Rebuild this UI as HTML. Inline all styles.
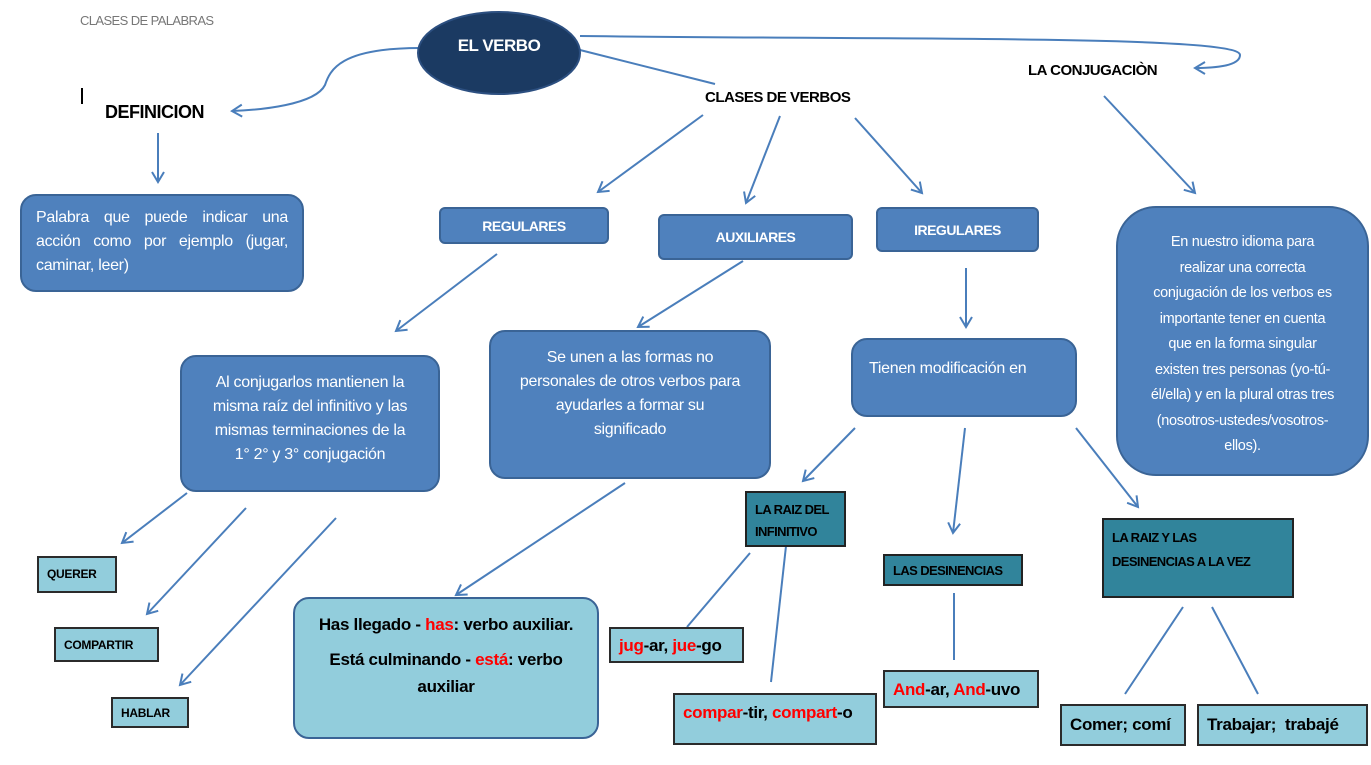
<!DOCTYPE html>
<html><head><meta charset="utf-8"><style>
body{margin:0;width:1371px;height:765px;background:#fff;position:relative;overflow:hidden;font-family:"Liberation Sans",sans-serif;}
.a{position:absolute;box-sizing:border-box;}
.mb{background:#4f81bd;border:2px solid #3a6496;color:#fff;border-radius:6px;font-weight:bold;font-size:14px;display:flex;align-items:center;justify-content:center;letter-spacing:-0.5px;}
.big{background:#4f81bd;border:2px solid #3a6496;color:#fff;border-radius:16px;font-size:15px;text-align:center;letter-spacing:-0.3px;}
.lb{background:#92cddc;border:2px solid #2b2b2b;color:#000;font-size:15px;letter-spacing:-0.3px;}
.tl{background:#31849b;border:2px solid #222;color:#000;font-weight:bold;font-size:13px;letter-spacing:-0.6px;}
.r{color:#f00;}
.t{position:absolute;font-weight:bold;color:#000;letter-spacing:-0.5px;}
.j{text-align:justify;text-align-last:justify;}
</style></head><body>
<svg class="a" style="left:0;top:0" width="1371" height="765">
<defs><marker id="m" markerWidth="14" markerHeight="14" refX="11" refY="7" orient="auto" markerUnits="userSpaceOnUse"><polyline points="1,1 11,7 1,13" fill="none" stroke="#4a7ebb" stroke-width="2"/></marker></defs>
<g stroke="#4a7ebb" stroke-width="2" fill="none">
<path d="M420,48 C340,48 330,70 325,85 C315,105 260,110 232,111" marker-end="url(#m)"/>
<path d="M580,36 C900,40 1240,35 1240,55 C1240,66 1215,68 1195,68" marker-end="url(#m)"/>
<line x1="580" y1="50" x2="715" y2="84"/>
<line x1="158" y1="133" x2="158" y2="182" marker-end="url(#m)"/>
<line x1="703" y1="115" x2="598" y2="192" marker-end="url(#m)"/>
<line x1="780" y1="116" x2="746" y2="203" marker-end="url(#m)"/>
<line x1="855" y1="118" x2="922" y2="193" marker-end="url(#m)"/>
<line x1="1104" y1="96" x2="1195" y2="193" marker-end="url(#m)"/>
<line x1="497" y1="254" x2="396" y2="331" marker-end="url(#m)"/>
<line x1="743" y1="261" x2="638" y2="327" marker-end="url(#m)"/>
<line x1="966" y1="268" x2="966" y2="327" marker-end="url(#m)"/>
<line x1="187" y1="493" x2="122" y2="543" marker-end="url(#m)"/>
<line x1="246" y1="508" x2="147" y2="614" marker-end="url(#m)"/>
<line x1="336" y1="518" x2="180" y2="685" marker-end="url(#m)"/>
<line x1="625" y1="483" x2="456" y2="595" marker-end="url(#m)"/>
<line x1="855" y1="428" x2="803" y2="481" marker-end="url(#m)"/>
<line x1="965" y1="428" x2="953" y2="533" marker-end="url(#m)"/>
<line x1="1076" y1="428" x2="1138" y2="507" marker-end="url(#m)"/>
<line x1="750" y1="553" x2="687" y2="627"/>
<line x1="786" y1="546" x2="771" y2="682"/>
<line x1="954" y1="593" x2="954" y2="660"/>
<line x1="1183" y1="607" x2="1125" y2="694"/>
<line x1="1212" y1="607" x2="1258" y2="694"/>
</g>
<ellipse cx="499" cy="53" rx="81" ry="41" fill="#1b3a62" stroke="#2c4f80" stroke-width="2"/>
<line x1="82" y1="88" x2="82" y2="104" stroke="#000" stroke-width="2"/>
</svg>
<div class="a" style="left:80px;top:13px;font-size:13px;color:#777;letter-spacing:-0.6px">CLASES DE PALABRAS</div>
<div class="a" style="left:418px;top:36px;width:162px;text-align:center;color:#fff;font-weight:bold;font-size:17px;letter-spacing:-0.5px">EL VERBO</div>
<div class="t" style="left:105px;top:102px;font-size:18px">DEFINICION</div>
<div class="t" style="left:705px;top:89px;font-size:15px">CLASES DE VERBOS</div>
<div class="t" style="left:1028px;top:62px;font-size:15px">LA CONJUGACIÒN</div>
<div class="a big" style="left:20px;top:194px;width:284px;height:98px;text-align:left;padding:10px 14px;line-height:24px;font-size:16px"><div class="j">Palabra que puede indicar una</div><div class="j">acción como por ejemplo (jugar,</div><div>caminar, leer)</div></div>
<div class="a mb" style="left:439px;top:207px;width:170px;height:37px">REGULARES</div>
<div class="a mb" style="left:658px;top:214px;width:195px;height:46px">AUXILIARES</div>
<div class="a mb" style="left:876px;top:207px;width:163px;height:45px">IREGULARES</div>
<div class="a big" style="left:1116px;top:206px;width:253px;height:270px;border-radius:40px;padding:22px 6px;line-height:25.5px;font-size:14.5px">En nuestro idioma para<br>realizar una correcta<br>conjugación de los verbos es<br>importante tener en cuenta<br>que en la forma singular<br>existen tres personas (yo-tú-<br>él/ella) y en la plural otras tres<br>(nosotros-ustedes/vosotros-<br>ellos).</div>
<div class="a big" style="left:180px;top:355px;width:260px;height:137px;padding:14px 4px;line-height:24px;font-size:16px">Al conjugarlos mantienen la<br>misma raíz del infinitivo y las<br>mismas terminaciones de la<br>1° 2° y 3° conjugación</div>
<div class="a big" style="left:489px;top:330px;width:282px;height:149px;padding:14px 4px;line-height:24px;font-size:16px">Se unen a las formas no<br>personales de otros verbos para<br>ayudarles a formar su<br>significado</div>
<div class="a big" style="left:851px;top:338px;width:226px;height:79px;padding:20px 10px;text-align:left;padding-left:16px;font-size:16px">Tienen modificación en</div>
<div class="a tl" style="left:745px;top:491px;width:101px;height:56px;padding:6px 8px;line-height:22px">LA RAIZ DEL<br>INFINITIVO</div>
<div class="a tl" style="left:883px;top:554px;width:140px;height:32px;padding:7px 8px">LAS DESINENCIAS</div>
<div class="a tl" style="left:1102px;top:518px;width:192px;height:80px;padding:6px 8px;line-height:24px">LA RAIZ Y LAS<br>DESINENCIAS A LA VEZ</div>
<div class="a lb" style="left:37px;top:556px;width:80px;height:37px;font-weight:bold;font-size:12px;padding:9px 8px">QUERER</div>
<div class="a lb" style="left:54px;top:627px;width:105px;height:35px;font-weight:bold;font-size:12px;padding:9px 8px">COMPARTIR</div>
<div class="a lb" style="left:111px;top:697px;width:78px;height:31px;font-weight:bold;font-size:12px;padding:7px 8px">HABLAR</div>
<div class="a lb" style="left:293px;top:597px;width:306px;height:142px;border-radius:16px;border-color:#3a6496;font-weight:bold;font-size:17px;text-align:center;padding:12px 10px;line-height:27px">Has llegado - <span class="r">has</span>: verbo auxiliar.<div style="height:8px"></div>Está culminando - <span class="r">está</span>: verbo<br>auxiliar</div>
<div class="a lb" style="left:609px;top:627px;width:135px;height:36px;font-size:17px;padding:7px 8px;font-weight:bold"><span class="r">jug</span>-ar, <span class="r">jue</span>-go</div>
<div class="a lb" style="left:673px;top:693px;width:204px;height:52px;font-size:17px;font-weight:bold;padding:8px 8px"><span class="r">compar</span>-tir, <span class="r">compart</span>-o</div>
<div class="a lb" style="left:883px;top:670px;width:156px;height:38px;font-size:17px;font-weight:bold;padding:8px 8px"><span class="r">And</span>-ar, <span class="r">And</span>-uvo</div>
<div class="a lb" style="left:1060px;top:704px;width:126px;height:42px;font-size:17px;font-weight:bold;padding:9px 8px">Comer; comí</div>
<div class="a lb" style="left:1197px;top:704px;width:171px;height:42px;font-size:17px;font-weight:bold;padding:9px 8px">Trabajar;&nbsp; trabajé</div>
</body></html>
